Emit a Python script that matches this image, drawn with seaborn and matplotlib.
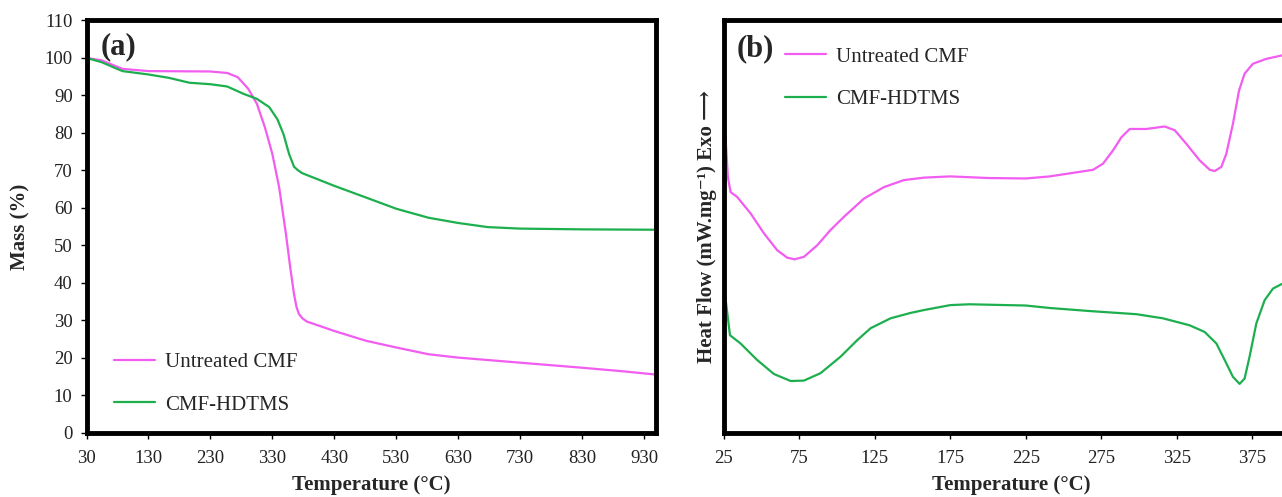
import numpy as np
import pandas as pd
import seaborn as sns
import matplotlib
matplotlib.use("Agg")
import matplotlib.pyplot as plt

# (a) TGA curves
tga_temp_untreated = [30, 54, 88, 130, 230, 257, 274, 291, 305, 318, 330, 341, 352, 359,
                      365, 369, 373, 379, 386, 430, 481, 530, 582, 630, 730, 830, 893, 948]
tga_mass_untreated = [100, 99.4, 97.1, 96.5, 96.4, 96.0, 94.9, 91.8, 87.8, 81.5, 74.4, 65.5,
                      53.0, 44.0, 37.0, 33.6, 31.7, 30.5, 29.7, 27.2, 24.6, 22.8, 21.0, 20.1,
                      18.75, 17.4, 16.5, 15.6]
tga_temp_hdtms = [30, 54, 88, 130, 163, 196, 230, 257, 284, 305, 325, 338, 348, 357, 365,
                  371, 378, 430, 481, 530, 582, 630, 678, 730, 830, 948]
tga_mass_hdtms = [100, 98.9, 96.5, 95.6, 94.7, 93.4, 93.0, 92.4, 90.4, 89.1, 86.9, 83.7,
                  79.7, 74.4, 71.0, 70.1, 69.3, 65.9, 62.8, 59.8, 57.4, 56.0, 54.9, 54.5,
                  54.3, 54.2]

# (b) DSC curves (arbitrary units, exo up)
dsc_temp_untreated = [25, 27.6, 29.4, 33.8, 42.7, 51.5, 60.3, 66.9, 71.8, 78, 86.8, 95.6,
                      104.5, 117.7, 131, 144.2, 157.5, 175, 200.8, 225, 240.9, 269.6, 276.2,
                      282.8, 288.4, 293.9, 304.9, 317, 323.7, 331.4, 340.2, 346.9, 350.2,
                      354.6, 357.9, 362.3, 366.3, 370, 375.5, 384.4, 394.5, 406]
dsc_flow_untreated = [78.2, 62.0, 58.4, 57.2, 53.2, 48.4, 44.3, 42.5, 42.1, 42.7, 45.5, 49.2,
                      52.4, 56.8, 59.6, 61.3, 61.9, 62.2, 61.8, 61.7, 62.2, 63.8, 65.3,
                      68.5, 71.7, 73.7, 73.7, 74.3, 73.4, 70.1, 66.1, 63.8, 63.5,
                      64.5, 67.7, 75.0, 83.0, 87.1, 89.5, 90.7, 91.5, 92.0]
dsc_temp_hdtms = [25, 25.5, 29, 36, 47, 58.1, 69.2, 78, 89, 102.3, 113.3, 122.2, 135.4, 148.6,
                  157.5, 175, 187.6, 225, 240.9, 269.6, 298.3, 315.9, 333.6, 343.5, 351.3,
                  356.8, 362.3, 366.7, 370, 373.3, 377.8, 383.3, 388.8, 394.5, 406]
dsc_flow_hdtms = [36.0, 34.2, 23.7, 21.7, 17.7, 14.3, 12.6, 12.7, 14.5, 18.5, 22.5, 25.4,
                  27.8, 29.1, 29.8, 31.0, 31.2, 30.9, 30.3, 29.5, 28.8, 27.8, 26.1, 24.5,
                  21.7, 17.7, 13.6, 11.9, 13.2, 18.5, 26.6, 32.2, 35.0, 36.1, 37.3]

labels = ["Untreated CMF", "CMF-HDTMS"]
colors = ["#F25CF0", "#1DAF4E"]

sns.set_theme(style="white")
plt.rcParams["font.family"] = ["Liberation Serif", "DejaVu Serif", "DejaVu Sans"]

fig = plt.figure(figsize=(12.82, 4.97), dpi=100)
ax1 = fig.add_axes([0.0675, 0.1288, 0.444, 0.830])
ax2 = fig.add_axes([0.5647, 0.1288, 0.4485, 0.830])

tga = pd.concat([
    pd.DataFrame({"T": tga_temp_untreated, "y": tga_mass_untreated, "s": labels[0]}),
    pd.DataFrame({"T": tga_temp_hdtms, "y": tga_mass_hdtms, "s": labels[1]}),
])
dsc = pd.concat([
    pd.DataFrame({"T": dsc_temp_untreated, "y": dsc_flow_untreated, "s": labels[0]}),
    pd.DataFrame({"T": dsc_temp_hdtms, "y": dsc_flow_hdtms, "s": labels[1]}),
])

for ax, df in [(ax1, tga), (ax2, dsc)]:
    for lab, col in zip(labels, colors):
        sub = df[df["s"] == lab]
        sns.lineplot(x=sub["T"], y=sub["y"], ax=ax, color=col, lw=1.6, label=lab,
                     sort=False, estimator=None, solid_joinstyle="round")
    for sp in ax.spines.values():
        sp.set_color("black")
        sp.set_linewidth(3.5)
    ax.tick_params(axis="both", direction="out", length=4, width=1, color="black",
                   labelsize=13.5, labelcolor="#222222", bottom=True, pad=8)
    ax.set_xlabel("Temperature (°C)", fontsize=15, fontweight="bold", labelpad=6)

# panel (a)
ax1.set_xlim(30, 949)
ax1.set_ylim(0, 110)
ax1.set_xticks(np.arange(30, 931, 100))
ax1.set_yticks(np.arange(0, 111, 10))
ax1.tick_params(axis="y", left=True, pad=6)
ax1.set_ylabel("Mass (%)", fontsize=15, fontweight="bold", labelpad=10)
ax1.text(0.024, 0.972, "(a)", transform=ax1.transAxes, fontsize=22, fontweight="bold",
         va="top", ha="left")
ax1.legend(frameon=False, loc="upper left", bbox_to_anchor=(0.033, 0.2145), fontsize=15,
           handlelength=2.0, handletextpad=0.45, labelspacing=1.09, borderaxespad=0)

# panel (b)
ax2.set_xlim(25, 406)
ax2.set_ylim(0, 100)
ax2.set_xticks(np.arange(25, 376, 50))
ax2.set_yticks([])
ax2.set_ylabel("Heat Flow (mW.mg⁻¹) Exo ⟶", fontsize=15, fontweight="bold", labelpad=5)
ax2.text(0.022, 0.966, "(b)", transform=ax2.transAxes, fontsize=22, fontweight="bold",
         va="top", ha="left")
ax2.legend(frameon=False, loc="upper left", bbox_to_anchor=(0.091, 0.956), fontsize=15,
           handlelength=2.0, handletextpad=0.45, labelspacing=1.09, borderaxespad=0)

fig.savefig("out.png", dpi=100)
